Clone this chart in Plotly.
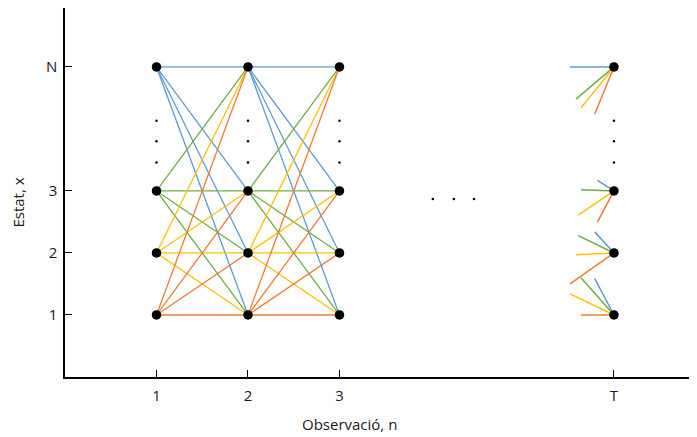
import plotly.graph_objects as go

# --- data -------------------------------------------------------------
columns = [1, 2, 3]            # fully drawn trellis columns
col_T = 6                      # position of the last observation T
states = [5, 3, 2, 1]          # y positions of states N, 3, 2, 1
state_labels = ["N", "3", "2", "1"]
x_tick_vals = [1, 2, 3, 6]
x_tick_text = ["1", "2", "3", "T"]

# colour of transition by source state
src_colors = {5: "#5B9BD5", 3: "#70AD47", 2: "#FFC000", 1: "#ED7D31"}

# vertical ellipsis between states 3 and N
vdots_y = [4.13, 3.80, 3.46]
# horizontal ellipsis between columns 3 and T
hdots_x = [4.02, 4.25, 4.47]
hdots_y = [2.87, 2.87, 2.87]

# short incoming stubs at column T: start points, per target state, per source colour
stub_target = [5, 5, 5, 5, 3, 3, 3, 3, 2, 2, 2, 2, 1, 1, 1, 1]
stub_source = [5, 3, 2, 1, 5, 3, 2, 1, 5, 3, 2, 1, 5, 3, 2, 1]
stub_x0 = [5.52, 5.585, 5.64, 5.79, 5.82, 5.64, 5.61, 5.82,
           5.79, 5.61, 5.585, 5.52, 5.79, 5.64, 5.52, 5.64]
stub_y0 = [5.0, 4.48, 4.34, 4.24, 3.17, 3.02, 2.61, 2.50,
           2.34, 2.28, 1.97, 1.50, 1.585, 1.60, 1.34, 1.0]

fig = go.Figure()

# full trellis transitions
for src in states:
    xs, ys = [], []
    for c in columns[:-1]:
        for tgt in states:
            xs += [c, c + 1, None]
            ys += [src, tgt, None]
    fig.add_trace(go.Scatter(x=xs, y=ys, mode="lines",
                             line=dict(color=src_colors[src], width=1.3),
                             hoverinfo="skip", showlegend=False))

# stubs into column T
for src in states:
    xs, ys = [], []
    for t, s, x0, y0 in zip(stub_target, stub_source, stub_x0, stub_y0):
        if s == src:
            xs += [x0, col_T, None]
            ys += [y0, t, None]
    fig.add_trace(go.Scatter(x=xs, y=ys, mode="lines",
                             line=dict(color=src_colors[src], width=1.5),
                             hoverinfo="skip", showlegend=False))

# vertical dots
all_cols = columns + [col_T]
fig.add_trace(go.Scatter(x=[c for c in all_cols for _ in vdots_y],
                         y=[v for _ in all_cols for v in vdots_y],
                         mode="markers", marker=dict(color="black", size=2.5),
                         hoverinfo="skip", showlegend=False))
# horizontal dots
fig.add_trace(go.Scatter(x=hdots_x, y=hdots_y, mode="markers",
                         marker=dict(color="black", size=2.5),
                         hoverinfo="skip", showlegend=False))

# nodes
fig.add_trace(go.Scatter(x=[c for c in all_cols for _ in states],
                         y=[s for _ in all_cols for s in states],
                         mode="markers", marker=dict(color="black", size=9.5),
                         hoverinfo="skip", showlegend=False))

font = dict(family="Open Sans, Noto Sans, sans-serif", size=15, color="#1a1a1a")
fig.update_layout(
    width=697, height=437,
    margin=dict(l=57, r=0, t=0, b=68, autoexpand=False),
    paper_bgcolor="white", plot_bgcolor="white",
    font=font,
    annotations=[
        dict(text="Observació, n", xref="paper", yref="paper", x=0.445, y=-0.1274,
             xanchor="center", yanchor="middle", showarrow=False, font=font),
        dict(text="Estat, x", xref="paper", yref="paper", x=-0.0727, y=0.474,
             xanchor="center", yanchor="middle", textangle=-90,
             showarrow=False, font=font),
    ],
)
fig.update_xaxes(range=[0, 6.995], tickvals=x_tick_vals, ticktext=x_tick_text,
                 ticks="inside", ticklen=7, tickcolor="black", tickwidth=1,
                 showline=True, linecolor="black", linewidth=2, mirror=True,
                 showgrid=False, zeroline=False, ticklabelstandoff=4,
                 automargin=False)
fig.update_yaxes(range=[0, 5.95], tickvals=states, ticktext=state_labels,
                 ticks="inside", ticklen=7, tickcolor="black", tickwidth=1,
                 showline=True, linecolor="black", linewidth=1.5,
                 showgrid=False, zeroline=False, ticklabelstandoff=3,
                 automargin=False)

fig.write_html("out.html")
